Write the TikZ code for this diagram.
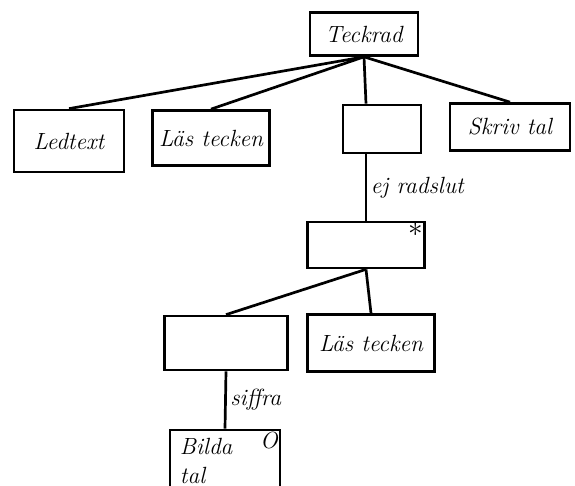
\documentclass[tikz,border=0pt]{standalone}
\usepackage{tikz}
\usetikzlibrary{positioning}
\tikzset{
		jsp box/.style={draw, line width=2.3pt, inner sep=3pt,
			font=\itshape\fontsize{20}{24}\selectfont},
		jsp line/.style={line width=2.3pt},
		jsp mark/.style={font=\itshape\fontsize{20}{24}\selectfont, inner sep=3pt}
	}

\begin{document}
\begin{tikzpicture}[x=0.03cm, y=-0.03cm]
				\useasboundingbox (0,0) rectangle (575,486);
				\clip (0,0) rectangle (575,486);

				\node[jsp box, minimum width=3.24cm, minimum height=1.29cm] (teck)  at (364,34)  {Teckrad};
				\node[jsp box, minimum width=3.3cm,  minimum height=1.86cm] (led)   at (69,141)  {Ledtext};
				\node[jsp box, minimum width=3.51cm, minimum height=1.65cm] (las1)  at (211,138) {Läs tecken};
				\node[jsp box, minimum width=2.34cm, minimum height=1.44cm] (sel1)  at (382,129) {};
				\node[jsp box, minimum width=3.6cm,  minimum height=1.41cm] (skriv) at (510,127) {Skriv tal};
				\node[jsp box, minimum width=3.51cm, minimum height=1.38cm,
					label={[jsp mark, anchor=north east, inner sep=2pt, font=\fontsize{30}{32}\selectfont]north east:$\ast$}] (iter) at (366,245) {};
				\node[jsp box, minimum width=3.69cm, minimum height=1.62cm] (sel2)  at (226,343) {};
				\node[jsp box, minimum width=3.81cm, minimum height=1.71cm] (las2)  at (371,343) {Läs tecken};
				\node[jsp box, minimum width=3.3cm,  minimum height=1.86cm, align=left,
					text width=2.7cm, label={[jsp mark, anchor=north east]north east:O}] (bilda) at (225,461) {Bilda\\tal};

				\draw[jsp line] (teck.south) -- (led.north);
				\draw[jsp line] (teck.south) -- (las1.north);
				\draw[jsp line] (teck.south) -- (iter.north |- sel1.north);
				\draw[jsp line] (teck.south) -- (skriv.north);
				\draw[jsp line] (iter.north |- sel1.south) -- node[jsp mark, right] {ej radslut} (iter.north);
				\draw[jsp line] (iter.south) -- (sel2.north);
				\draw[jsp line] (iter.south) -- (las2.north);
				\draw[jsp line] (sel2.south) -- node[jsp mark, right] {siffra} (bilda.north);
			\end{tikzpicture}
\end{document}
